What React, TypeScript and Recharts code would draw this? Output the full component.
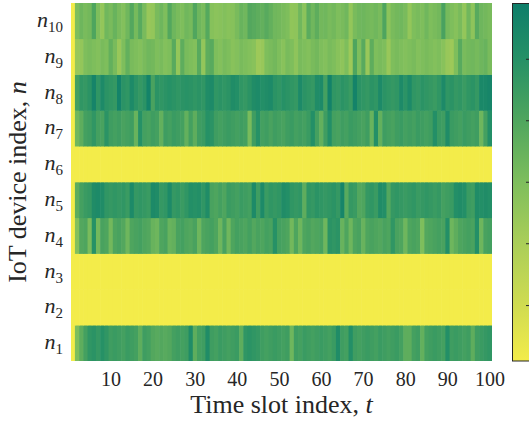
import { ScatterChart, Scatter, XAxis, YAxis, Customized } from 'recharts';

// time slots 1..100, device rows n1..n10
const T_TICKS = [10, 20, 30, 40, 50, 60, 70, 80, 90, 100];
const N_TICKS = [1, 2, 3, 4, 5, 6, 7, 8, 9, 10];

// colour value per slot (0 = idle / yellow, 100 = top of colour bar)
const n1 = [
  0, 50, 62, 72, 80, 82, 78, 84, 80, 74,
  76, 74, 72, 76, 74, 72, 62, 74, 72, 66,
  64, 66, 64, 66, 72, 74, 72, 74, 88, 62,
  72, 74, 88, 74, 72, 76, 74, 72, 74, 76,
  62, 80, 82, 80, 78, 74, 72, 74, 76, 74,
  72, 74, 56, 74, 72, 76, 74, 72, 74, 76,
  74, 72, 76, 88, 74, 72, 86, 74, 72, 74,
  76, 74, 72, 76, 74, 72, 74, 76, 72, 62,
  62, 72, 74, 60, 72, 74, 76, 74, 72, 86,
  74, 76, 74, 72, 74, 62, 74, 76, 78, 80,
];
const IDLE = [
  0, 0, 0, 0, 0, 0, 0, 0, 0, 0,
  0, 0, 0, 0, 0, 0, 0, 0, 0, 0,
  0, 0, 0, 0, 0, 0, 0, 0, 0, 0,
  0, 0, 0, 0, 0, 0, 0, 0, 0, 0,
  0, 0, 0, 0, 0, 0, 0, 0, 0, 0,
  0, 0, 0, 0, 0, 0, 0, 0, 0, 0,
  0, 0, 0, 0, 0, 0, 0, 0, 0, 0,
  0, 0, 0, 0, 0, 0, 0, 0, 0, 0,
  0, 0, 0, 0, 0, 0, 0, 0, 0, 0,
  0, 0, 0, 0, 0, 0, 0, 0, 0, 0,
];
const n2 = IDLE;
const n3 = IDLE;
const n4 = [
  0, 48, 66, 68, 52, 84, 54, 70, 68, 54,
  68, 70, 66, 56, 68, 70, 72, 68, 66, 58,
  56, 68, 70, 58, 60, 70, 72, 68, 66, 70,
  56, 68, 70, 72, 68, 56, 70, 55, 68, 72,
  70, 68, 72, 66, 70, 68, 72, 70, 84, 72,
  70, 68, 54, 68, 56, 68, 70, 66, 68, 70,
  56, 82, 80, 82, 58, 68, 56, 68, 70, 58,
  68, 70, 68, 66, 70, 68, 80, 70, 68, 56,
  68, 70, 68, 50, 66, 68, 70, 72, 70, 86,
  56, 62, 68, 70, 72, 70, 86, 56, 70, 72,
];
const n5 = [
  0, 62, 72, 76, 78, 88, 90, 88, 80, 78,
  80, 78, 80, 76, 90, 78, 80, 78, 76, 90,
  88, 78, 80, 90, 78, 80, 76, 80, 86, 84,
  86, 80, 88, 70, 68, 72, 68, 76, 74, 72,
  76, 74, 72, 90, 74, 90, 76, 80, 78, 80,
  88, 86, 80, 78, 80, 62, 80, 78, 82, 80,
  78, 80, 82, 78, 94, 64, 78, 76, 66, 68,
  78, 80, 76, 88, 86, 66, 78, 80, 78, 76,
  78, 80, 76, 78, 80, 78, 76, 78, 72, 74,
  76, 86, 88, 86, 76, 74, 88, 86, 88, 86,
];
const n6 = IDLE;
const n7 = [
  0, 55, 62, 72, 74, 80, 72, 70, 82, 74,
  72, 74, 70, 72, 74, 58, 84, 72, 70, 74,
  72, 60, 74, 72, 76, 74, 72, 60, 72, 62,
  74, 76, 84, 82, 74, 72, 74, 76, 74, 72,
  74, 72, 52, 74, 84, 72, 74, 70, 74, 72,
  70, 74, 76, 72, 74, 72, 76, 86, 72, 60,
  74, 86, 72, 70, 74, 72, 76, 74, 72, 70,
  74, 58, 86, 60, 74, 72, 70, 74, 76, 72,
  74, 72, 76, 74, 72, 74, 86, 76, 74, 88,
  76, 74, 72, 76, 74, 72, 74, 56, 72, 86,
];
const n8 = [
  0, 72, 80, 78, 82, 95, 80, 90, 82, 80,
  78, 96, 82, 80, 90, 82, 78, 82, 96, 70,
  82, 80, 82, 84, 82, 80, 82, 83, 82, 80,
  82, 80, 88, 90, 80, 82, 80, 82, 88, 86,
  80, 78, 82, 88, 90, 86, 88, 90, 82, 80,
  84, 82, 80, 78, 90, 82, 80, 78, 88, 90,
  72, 97, 80, 78, 82, 80, 76, 96, 82, 80,
  78, 82, 80, 90, 82, 80, 78, 80, 90, 82,
  90, 80, 78, 82, 80, 78, 76, 80, 90, 80,
  82, 78, 80, 76, 80, 82, 78, 92, 92, 94,
];
const n9 = [
  0, 40, 42, 50, 52, 50, 48, 52, 50, 60,
  52, 40, 50, 60, 52, 50, 48, 52, 55, 54,
  50, 52, 48, 50, 64, 42, 62, 52, 50, 48,
  64, 42, 62, 64, 50, 48, 52, 50, 46, 48,
  52, 50, 48, 46, 38, 40, 50, 52, 54, 50,
  46, 52, 50, 44, 52, 50, 48, 52, 54, 50,
  48, 52, 50, 46, 44, 50, 38, 68, 50, 64,
  40, 62, 50, 52, 50, 40, 50, 52, 50, 48,
  50, 52, 48, 50, 52, 50, 48, 50, 46, 40,
  38, 50, 64, 52, 54, 55, 53, 56, 58, 52,
];
const n10 = [
  0, 50, 56, 52, 54, 68, 50, 42, 55, 52,
  58, 52, 48, 55, 66, 53, 64, 52, 40, 42,
  52, 56, 50, 66, 56, 52, 50, 55, 53, 67,
  56, 52, 65, 47, 45, 46, 48, 46, 47, 52,
  58, 55, 66, 64, 62, 60, 64, 60, 55, 54,
  52, 50, 43, 44, 55, 45, 63, 55, 62, 54,
  55, 52, 54, 50, 52, 55, 42, 52, 55, 56,
  54, 53, 55, 52, 68, 45, 52, 54, 55, 52,
  42, 50, 52, 50, 55, 50, 52, 54, 70, 53,
  50, 47, 52, 42, 55, 44, 64, 56, 54, 52,
];
const ROWS = [n1, n2, n3, n4, n5, n6, n7, n8, n9, n10];

// colour bar tick values (labels fall outside the picture)
const CBAR_TICKS = [15.5, 32.8, 50, 67.2, 84.4];

const STOPS: [number, number[]][] = [
  [0, [243, 236, 74]],
  [0.15, [209, 220, 80]],
  [0.33, [170, 206, 88]],
  [0.5, [126, 190, 92]],
  [0.67, [80, 166, 94]],
  [0.84, [38, 145, 102]],
  [1, [14, 126, 106]],
];

function colorOf(v: number) {
  const f = Math.max(0, Math.min(1, v / 100));
  for (let i = 1; i < STOPS.length; i++) {
    const [p1, c1] = STOPS[i];
    const [p0, c0] = STOPS[i - 1];
    if (f <= p1) {
      const k = (f - p0) / (p1 - p0);
      const c = c0.map((a, j) => Math.round(a + (c1[j] - a) * k));
      return `rgb(${c[0]},${c[1]},${c[2]})`;
    }
  }
  return 'rgb(14,126,106)';
}

const cells = ROWS.flatMap((row, i) => row.map((v, j) => ({ t: j + 1, n: i + 1, v })));

const W = 529;
const H = 423;
const LEFT = 71;
const RIGHT = 37;
const TOP = 3;
const XH = 62;
const PW = W - LEFT - RIGHT;
const PH = H - TOP - XH;
const CW = PW / 100;
const CH = PH / 10;

const FONT = '"Liberation Serif", "DejaVu Serif", serif';
const INK = '#262626';

const Cell = (p: any) => (
  <rect
    x={p.cx - CW / 2 - 0.3}
    y={p.cy - CH / 2 - 0.3}
    width={CW + 0.6}
    height={CH + 0.6}
    fill={colorOf(p.payload.v)}
  />
);

const TTick = ({ x, y, payload }: any) => (
  <text x={x} y={y + 17} textAnchor="middle" fontFamily={FONT} fontSize={20} fill={INK}>
    {payload.value}
  </text>
);

const NTick = ({ y, payload }: any) => (
  <text x={63} y={y + 6} textAnchor="end" fontFamily={FONT} fontSize={22} fill={INK}>
    <tspan fontStyle="italic">n</tspan>
    <tspan fontSize={15} dy={5}>{payload.value}</tspan>
  </text>
);

const Extras = () => {
  const cbX = 512.5;
  const cbTop = TOP + 0.5;
  const cbH = PH - 0.5;
  return (
    <g>
      <defs>
        <linearGradient id="cbar" x1="0" y1="1" x2="0" y2="0">
          {STOPS.map(([p, c]) => (
            <stop key={p} offset={p} stopColor={`rgb(${c[0]},${c[1]},${c[2]})`} />
          ))}
        </linearGradient>
      </defs>
      <rect x={cbX} y={cbTop} width={22} height={cbH} fill="url(#cbar)" stroke={INK} strokeWidth={1} />
      {CBAR_TICKS.map((v) => {
        const yy = cbTop + cbH - (v / 100) * cbH;
        return <line key={v} x1={526} x2={535} y1={yy} y2={yy} stroke={INK} strokeWidth={1} />;
      })}
      <text x={LEFT + PW / 2} y={413} textAnchor="middle" fontFamily={FONT} fontSize={26} fill={INK}>
        Time slot index, <tspan fontStyle="italic">t</tspan>
      </text>
      <text
        transform={`translate(26, ${TOP + PH / 2}) rotate(-90)`}
        textAnchor="middle"
        fontFamily={FONT}
        fontSize={26}
        fill={INK}
      >
        IoT device index, <tspan fontStyle="italic">n</tspan>
      </text>
    </g>
  );
};

export default function App() {
  return (
    <div style={{ position: 'absolute', left: 0, top: 0, background: '#fff' }}>
      <ScatterChart width={W} height={H} margin={{ top: TOP, right: RIGHT, bottom: 0, left: 0 }}>
        <XAxis
          type="number"
          dataKey="t"
          domain={[0.5, 100.5]}
          ticks={T_TICKS}
          axisLine={false}
          tickLine={false}
          height={XH}
          tick={<TTick />}
          allowDataOverflow
        />
        <YAxis
          type="number"
          dataKey="n"
          domain={[0.5, 10.5]}
          ticks={N_TICKS}
          axisLine={false}
          tickLine={false}
          width={LEFT}
          tick={<NTick />}
          allowDataOverflow
        />
        <Scatter data={cells} shape={Cell} isAnimationActive={false} />
        <Customized component={Extras} />
      </ScatterChart>
    </div>
  );
}
